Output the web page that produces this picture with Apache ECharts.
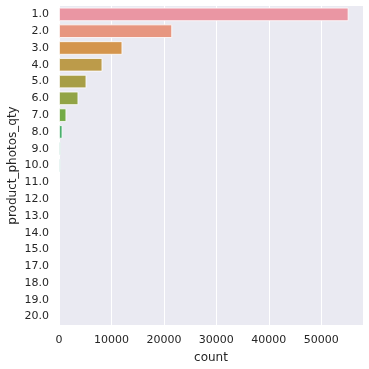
<!DOCTYPE html>
<html><head><meta charset="utf-8">
<script src="https://cdn.jsdelivr.net/npm/echarts@6/dist/echarts.min.js"></script>
<style>html,body{margin:0;padding:0;background:#fff}#c{width:369px;height:369px}</style>
</head><body><div id="c"></div>
<script>
const categories = ['1.0','2.0','3.0','4.0','5.0','6.0','7.0','8.0','9.0','10.0','11.0','12.0','13.0','14.0','15.0','17.0','18.0','19.0','20.0'];
const counts = [55200, 21570, 12080, 8270, 5220, 3690, 1400, 660, 320, 300, 60, 40, 20, 10, 15, 10, 5, 10, 5];
const xTicks = [0, 10000, 20000, 30000, 40000, 50000];

// seaborn husl palette + desaturation (style only)
const M = [[3.2406,-1.5372,-0.4986],[-0.9689,1.8758,0.0415],[0.0557,-0.2040,1.0570]];
const refU=0.19784, refV=0.46834, refY=1.0, labE=0.008856, labK=903.3;
function maxChroma(L,H){const hr=H*Math.PI/180,s=Math.sin(hr),c=Math.cos(hr);
  const sub1=Math.pow(L+16,3)/1560896, sub2=sub1>labE?sub1:L/labK; let r=Infinity;
  for(const [m1,m2,m3] of M){const top=(0.99915*m1+1.05122*m2+1.14460*m3)*sub2;
    const rb=0.86330*m3-0.17266*m2, lb=0.12949*m3-0.38848*m1, bot=(rb*s+lb*c)*sub2;
    for(const t of [0,1]){const C=L*(top-1.05122*t)/(bot+0.17266*s*t); if(C>0&&C<r) r=C;}}
  return r;}
function fInv(t){return Math.pow(t,3)>labE?Math.pow(t,3):(116*t-16)/labK;}
function fromLin(c){return c<=0.0031308?12.92*c:1.055*Math.pow(c,1/2.4)-0.055;}
function huslToRgb(H,S,L){const C=maxChroma(L,H)/100*S, hr=H*Math.PI/180;
  const U=Math.cos(hr)*C, V=Math.sin(hr)*C;
  const Y=fInv((L+16)/116)*refY, vu=U/(13*L)+refU, vv=V/(13*L)+refV;
  const X=0-(9*Y*vu)/((vu-4)*vv-vu*vv), Z=(9*Y-15*vv*Y-vv*X)/(3*vv);
  return M.map(r=>Math.min(1,Math.max(0,fromLin(r[0]*X+r[1]*Y+r[2]*Z))));}
function rgbToHls(r,g,b){const mx=Math.max(r,g,b),mn=Math.min(r,g,b),l=(mx+mn)/2;
  if(mx===mn) return [0,l,0]; const d=mx-mn; const s=l<=0.5?d/(mx+mn):d/(2-mx-mn);
  const rc=(mx-r)/d,gc=(mx-g)/d,bc=(mx-b)/d; let h;
  if(r===mx) h=bc-gc; else if(g===mx) h=2+rc-bc; else h=4+gc-rc;
  h=((h/6)%1+1)%1; return [h,l,s];}
function v(m1,m2,h){h=((h%1)+1)%1; if(h<1/6) return m1+(m2-m1)*h*6; if(h<0.5) return m2; if(h<2/3) return m1+(m2-m1)*(2/3-h)*6; return m1;}
function hlsToRgb(h,l,s){if(s===0) return [l,l,l]; const m2=l<=0.5?l*(1+s):l+s-l*s, m1=2*l-m2;
  return [v(m1,m2,h+1/3),v(m1,m2,h),v(m1,m2,h-1/3)];}
function palette(n){const out=[];for(let i=0;i<n;i++){let h=(i/n+0.01)%1; h*=359;
  const rgb=huslToRgb(h,0.9*99,0.7*99); const [hh,ll,ss]=rgbToHls(...rgb);
  const d=hlsToRgb(hh,ll,ss*0.75); out.push('rgb('+d.map(x=>Math.round(x*255)).join(',')+')');}
  return out;}
const colors = palette(categories.length);

const chart = echarts.init(document.getElementById('c'), null, {renderer:'canvas'});
const maxX = Math.max(...counts)*1.05;
chart.setOption({
  animation:false,
  backgroundColor:'#ffffff',
  grid:{left:59,right:6,top:6,bottom:44,containLabel:false,outerBoundsMode:'none',show:true,backgroundColor:'#eaeaf2',borderWidth:0},
  xAxis:{type:'value',min:0,max:maxX,interval:10000,
    name:'count',nameLocation:'middle',nameGap:27,nameMoveOverlap:false,
    nameTextStyle:{color:'#262626',fontSize:12,fontFamily:'DejaVu Sans'},
    axisLine:{show:false},axisTick:{show:false},
    axisLabel:{color:'#262626',fontSize:11,fontFamily:'DejaVu Sans',margin:10,showMaxLabel:false,
      formatter:val=>xTicks.includes(val)?String(val):''},
    splitLine:{show:true,lineStyle:{color:'#ffffff',width:1}}},
  yAxis:{type:'category',data:categories,inverse:true,
    name:'product_photos_qty',nameLocation:'middle',nameGap:40,nameMoveOverlap:false,
    nameTextStyle:{color:'#262626',fontSize:12,fontFamily:'DejaVu Sans'},
    axisLine:{show:false},axisTick:{show:false},splitLine:{show:false},
    axisLabel:{color:'#262626',fontSize:11,fontFamily:'DejaVu Sans',margin:10}},
  series:[{type:'bar',barCategoryGap:'20%',
    data:counts.map((c,i)=>({value:c,itemStyle:{color:colors[i]}})),
    itemStyle:{borderColor:'#ffffff',borderWidth:0.8}}]
});
</script></body></html>
